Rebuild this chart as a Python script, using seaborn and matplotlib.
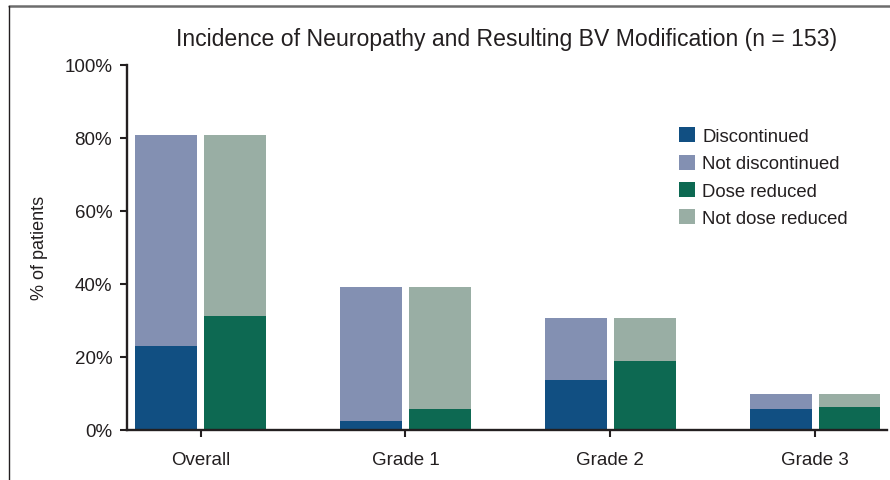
import matplotlib
matplotlib.use("Agg")
import matplotlib.pyplot as plt
from matplotlib.patches import Patch
from matplotlib.lines import Line2D
import pandas as pd
import seaborn as sns

# values (% of patients, n = 153)
groups = ["Overall", "Grade 1", "Grade 2", "Grade 3"]
with_neuropathy = [80.7, 39.2, 30.6, 9.8]
discontinued = [23.0, 2.4, 13.6, 5.7]
dose_reduced = [31.2, 5.7, 18.8, 6.2]
y_ticks = [0, 20, 40, 60, 80, 100]

c_disc = "#114f82"
c_not_disc = "#8390b2"
c_dose = "#0d6952"
c_not_dose = "#99aea4"
ink = "#231f20"

totals = pd.DataFrame({
    "group": groups * 2,
    "measure": ["disc"] * 4 + ["dose"] * 4,
    "pct": with_neuropathy * 2,
})
lower = pd.DataFrame({
    "group": groups * 2,
    "measure": ["disc"] * 4 + ["dose"] * 4,
    "pct": discontinued + dose_reduced,
})

sns.set_style("ticks")
plt.rcParams["font.family"] = ["Liberation Sans", "DejaVu Sans"]

fig = plt.figure(figsize=(8.9, 4.81), dpi=100)
ax = fig.add_axes([0.1424, 0.1046, 0.8542, 0.7588])

bar_kw = dict(x="group", y="pct", hue="measure", hue_order=["disc", "dose"],
              width=0.673, gap=0.108, saturation=1, linewidth=0, legend=False, ax=ax)
sns.barplot(data=totals, palette=[c_not_disc, c_not_dose], **bar_kw)
sns.barplot(data=lower, palette=[c_disc, c_dose], **bar_kw)

ax.set_xlim(-0.36, 3.35)
ax.set_ylim(0, 100)
ax.set_yticks(y_ticks)
ax.set_yticklabels([f"{t}%" for t in y_ticks])
ax.set_xlabel("")
ax.set_ylabel("% of patients", fontsize=13, color=ink,
              family=["Liberation Sans Narrow", "Liberation Sans"])
ax.yaxis.set_label_coords(-0.104, 0.5)
ax.set_title("Incidence of Neuropathy and Resulting BV Modification (n = 153)",
             fontsize=16.6, color=ink, pad=14)

sns.despine(ax=ax)
for s in ["left", "bottom"]:
    ax.spines[s].set_linewidth(1.7)
    ax.spines[s].set_color(ink)
ax.tick_params(axis="both", labelsize=13.5, colors=ink, width=1.5, length=5)
ax.tick_params(axis="y", pad=5.5)
ax.tick_params(axis="x", pad=10)

handles = [Patch(facecolor=c, edgecolor="none") for c in [c_disc, c_not_disc, c_dose, c_not_dose]]
labels = ["Discontinued", "Not discontinued", "Dose reduced", "Not dose reduced"]
fig.legend(handles, labels, loc="upper left", bbox_to_anchor=(0.763, 0.733),
           frameon=False, fontsize=13.3, handlelength=0.86, handleheight=0.86,
           handletextpad=0.4, labelspacing=0.51, borderpad=0, borderaxespad=0,
           labelcolor=ink)

# outer frame lines of the original panel
fig.add_artist(Line2D([0.0105, 1.0], [0.986, 0.986], color="#6d6d6d", lw=1.8,
                      transform=fig.transFigure))
fig.add_artist(Line2D([0.0105, 0.0105], [0.0, 0.986], color=ink, lw=1.0,
                      transform=fig.transFigure))

fig.savefig("out.png", dpi=100)
